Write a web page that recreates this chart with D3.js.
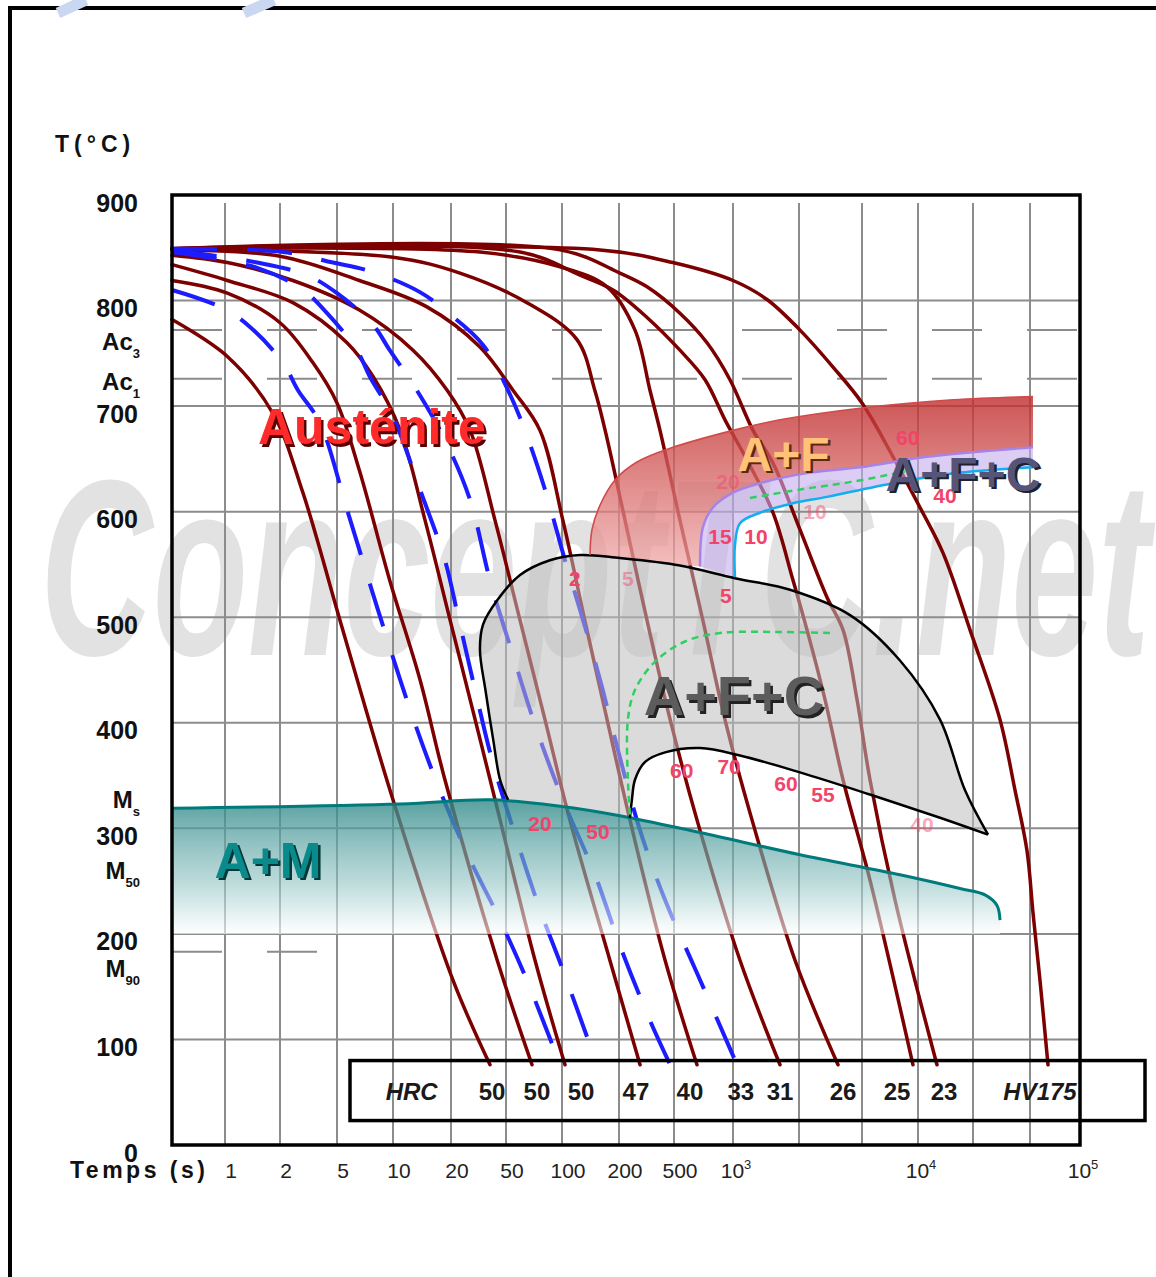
<!DOCTYPE html>
<html>
<head>
<meta charset="utf-8">
<script src="https://cdnjs.cloudflare.com/ajax/libs/d3/7.8.5/d3.min.js"></script>
<style>
  body { margin: 0; background: #fff; }
  svg text { font-family: "Liberation Sans", Arial, sans-serif; }
</style>
</head>
<body>
<div id="chart"></div>
<script>
// ---- axes ----
// the time grid is a 1-2-5 sequence, each step drawn at (almost) the same width
const timeBreaks = [0.5, 1, 2, 5, 10, 20, 50, 100, 200, 500, 1e3, 2e3, 5e3, 1e4, 2e4, 5e4, 1e5];
const gridTimes = [1, 2, 5, 10, 20, 50, 100, 200, 500, 1e3, 2e3, 5e3, 1e4, 2e4, 5e4];
const timeTicks = [1, 2, 5, 10, 20, 50, 100, 200, 500, 1e3, 1e4, 1e5];
const tempTicks = [0, 100, 200, 300, 400, 500, 600, 700, 800, 900];
const gridTemps = [100, 200, 300, 400, 500, 600, 700, 800];

// critical temperatures (deg C)
const ac3Temp = 772;
const ac1Temp = 726;
const m90Temp = 183;
const critNames = ['Ac', 'Ac', 'M', 'M', 'M'];
const critSubs = ['3', '1', 's', '50', '90'];
const critLabelTemps = [760, 723, 327, 259, 166];

// ---- cooling curves [time s, temperature C] ----
const redCurves = [
  [[0.5,782],[1.03,747],[1.83,693],[2.89,618],[5.19,497],[10,327],[20.7,156],[38.3,76]],
  [[0.5,819],[1.03,807],[2,779],[3.4,741],[5,703],[6.6,639],[9.6,535],[13.8,441],[18.6,346],[43.2,175],[69,76]],
  [[0.5,834],[1.03,819],[2.46,798],[5.66,760],[7.81,728],[10.9,677],[14.66,592],[19.8,497],[29.9,403],[45.3,308],[71.6,175],[103.7,76]],
  [[0.5,843],[1.03,836],[2.46,819],[6.6,791],[12.7,753],[19.1,715],[27.5,677],[41.6,592],[59.5,497],[81,403],[110,308],[179,175],[284,76]],
  [[0.5,848],[2,842],[6.6,819],[15,794],[32.4,756],[54.5,715],[76.1,677],[101,592],[132,497],[173,403],[240,308],[431,175],[655,76]],
  [[0.5,849],[10,841],[23.2,826],[64.8,798],[120,763],[149,715],[169,677],[221,592],[319,497],[469,403],[655,308],[1076,175],[1638,76]],
  [[0.5,849],[32.4,846],[97.6,832],[173,813],[261,772],[335,715],[396,677],[536,592],[702,497],[910,403],[1221,308],[1918,175],[3527,76]],
  [[0.5,849],[59.5,846],[124.5,824],[186,810],[319,784],[536,753],[720,725],[910,687],[1158,649],[1522,599],[1878,535],[2246,488],[2920,422],[3794,346],[5520,251],[9397,76]],
  [[0.5,849],[97.6,848],[203,826],[319,813],[536,788],[737,760],[965,725],[1234,677],[1522,646],[2029,583],[3004,519],[3794,488],[4650,422],[5520,346],[7525,232],[12700,76]],
  [[0.5,849],[158.7,848],[490,836],[1000,819],[1429,801],[2029,772],[3280,737],[5000,703],[7339,652],[10255,604],[13700,561],[19260,488],[30870,403],[39320,336],[47620,279],[52130,220],[57430,156],[64170,76]]
];

const blueCurves = [
  [[0.5,810],[0.97,793],[1.37,775],[2.1,741],[2.67,715],[3.8,684],[5.66,602],[8.3,507],[12.3,412],[17.5,336],[27.5,270],[45.3,213],[64.8,156],[97.6,76]],
  [[0.5,846],[1.5,831],[2.89,810],[4.26,788],[6.4,753],[7.5,728],[10,690],[13.8,621],[18.6,554],[22.4,502],[29.9,431],[39.6,365],[55.9,294],[76.1,223],[101,166],[153,76]],
  [[0.5,848],[1.5,836],[3.09,824],[5,807],[7.81,777],[9.6,753],[13.3,715],[18.6,668],[27.5,611],[38.3,535],[54.5,464],[71.6,398],[101,327],[149.4,256],[203,189],[335,118],[469,76]],
  [[0.5,849],[2.1,846],[4.69,836],[7.81,827],[13.8,808],[19.1,789],[34.1,758],[51.3,715],[63.2,677],[81,621],[103.7,554],[124.5,507],[158.7,441],[197.6,374],[284,298],[431,232],[655,163],[1043,76]]
];

// ---- transformation zones ----
const ferriteTop = [[140.6,559],[144,583],[158.7,606],[190.6,630],[270,647],[469,660],[1000,677],[1638,687],[4850,698],[15540,706],[52130,709]];
const carbideTop = [[679,548],[702,585],[790,604],[1000,618],[1328,627],[2347,637],[4850,642],[11200,652],[52130,661]];
const cyanLine = [[1021,538],[1021,568],[1076,589],[1328,599],[1878,608],[3004,614],[7339,627],[16980,637],[52130,642]];
const bainiteOuter = [[51.3,327],[45.3,346],[40.4,384],[35.5,431],[32.4,469],[34.1,493],[43.2,516],[59.5,540],[86.1,554],[124.5,559],[203,556],[536,549],[1021,537],[1819,526],[4200,502],[8000,459],[13200,403],[18090,336],[25460,294]];
const bainiteInner = [[25460,294],[13200,310],[5520,332],[2029,353],[1076,369],[679,376],[431,372],[309,363],[261,346],[248,327],[240,310]];
const msLine = [[0.5,319],[10.9,323],[38.3,327],[97.6,321],[203,312],[679,296],[2029,275],[8000,256],[16980,243],[24260,237],[29420,227],[30870,213]];
const martensiteFloor = 200;
const greenLow = [[240,313],[232,346],[232,403],[261,431],[365,458],[569,477],[858,485],[1638,486],[3139,485]];
const greenHigh = [[1195,613],[2029,621],[4200,628],[8500,638]];

// percentage labels [text, time, temp]
const pctLabels = [
  ['60',8800,668],['20',943,627],['40',14050,613],['10',2525,598],['15',858,575],['10',1273,575],
  ['2',117,535],['5',232,535],['5',920,519],['60',548,353],['70',955,357],['60',1745,341],
  ['55',2836,330],['40',10517,302],['20',76.1,303],['50',155,295]
];
const fadedPct = new Set([1, 3, 7, 13]);

// zone names [text, time, temp]
const zoneLabels = [
  ['Austénite', 7.7, 664],
  ['A+F', 1700, 639],
  ['A+F+C', 17620, 620],
  ['A+F+C', 1010, 407],
  ['A+M', 1.72, 253]
];

// final hardness
const hardnessTexts = ['HRC','50','50','50','47','40','33','31','26','25','23','HV175'];
const hardnessTimes = [12.5,39.6,73.3,126,265,603,1086,1638,3794,7710,13880,57430];

class CctDiagram {

    constructor(_config) {
        this.config = {
            parentElement: _config.parentElement,
            containerWidth: 1156,
            containerHeight: 1277,
            margin: { top: 195, right: 76, bottom: 132, left: 172 },
            // pixel spot of each time break along the axis
            xRange: [0, 53, 108, 165, 221, 279, 334, 390, 447, 502, 561, 627, 690, 746, 801, 858, 908]
        };
        this.initVis();
    }

    initVis() {
        let vis = this;
        const m = vis.config.margin;
        vis.width = vis.config.containerWidth - m.left - m.right;
        vis.height = vis.config.containerHeight - m.top - m.bottom;

        vis.x = d3.scaleLog().domain(timeBreaks).range(vis.config.xRange);
        vis.y = d3.scaleLinear().domain([0, 900]).range([vis.height, 0]);

        vis.line = d3.line()
            .x(d => vis.x(d[0]))
            .y(d => vis.y(d[1]))
            .curve(d3.curveCatmullRom.alpha(0.5));

        vis.svg = d3.select(vis.config.parentElement).append('svg')
            .attr('width', vis.config.containerWidth)
            .attr('height', vis.config.containerHeight);

        const defs = vis.svg.append('defs');
        const teal = defs.append('linearGradient').attr('id', 'tealGrad')
            .attr('x1', 0).attr('y1', 0).attr('x2', 0).attr('y2', 1);
        teal.append('stop').attr('offset', '0%').attr('stop-color', '#2f8888').attr('stop-opacity', 0.8);
        teal.append('stop').attr('offset', '60%').attr('stop-color', '#8cc0c0').attr('stop-opacity', 0.6);
        teal.append('stop').attr('offset', '100%').attr('stop-color', '#ffffff').attr('stop-opacity', 0.6);
        const red = defs.append('linearGradient').attr('id', 'ferGrad')
            .attr('x1', 0).attr('y1', 0).attr('x2', 0).attr('y2', 1);
        red.append('stop').attr('offset', '0%').attr('stop-color', '#c02a2a').attr('stop-opacity', 0.8);
        red.append('stop').attr('offset', '100%').attr('stop-color', '#f0a8a8').attr('stop-opacity', 0.75);

        // outer page frame and corner marks
        vis.svg.append('rect')
            .attr('x', 10).attr('y', 8).attr('width', 1200).attr('height', 1320)
            .attr('fill', 'none').attr('stroke', '#000').attr('stroke-width', 4);
        vis.svg.append('path')
            .attr('d', 'M58,13 L86,0 M244,13 L274,0')
            .attr('stroke', '#c9d8f0').attr('stroke-width', 11);

        // watermark
        vis.svg.append('text')
            .attr('x', 40).attr('y', 655)
            .attr('textLength', 1110).attr('lengthAdjust', 'spacingAndGlyphs')
            .attr('font-size', 250).attr('font-weight', 'bold').attr('font-style', 'italic')
            .attr('fill', '#e2e2e2')
            .text('ConceptTC.net');

        vis.chart = vis.svg.append('g')
            .attr('transform', `translate(${m.left},${m.top})`);

        vis.renderVis();
    }

    zonePath(parts) {
        let vis = this;
        return parts.map((p, i) => {
            const s = vis.line(p);
            return i ? s.replace(/^M/, 'L') : s;
        }).join('') + 'Z';
    }

    shadowText(g, text, x, y, size, fill, shadow) {
        g.append('text').attr('x', x + 2.5).attr('y', y + 2.5)
            .attr('text-anchor', 'middle').attr('font-size', size).attr('font-weight', 'bold')
            .attr('fill', shadow).text(text);
        g.append('text').attr('x', x).attr('y', y)
            .attr('text-anchor', 'middle').attr('font-size', size).attr('font-weight', 'bold')
            .attr('fill', fill).text(text);
    }

    renderVis() {
        let vis = this;
        const c = vis.chart;
        const gridColor = '#8c8c8c';

        // grid
        c.append('g').selectAll('line').data(gridTimes).join('line')
            .attr('x1', d => vis.x(d)).attr('x2', d => vis.x(d))
            .attr('y1', 8).attr('y2', vis.height)
            .attr('stroke', gridColor).attr('stroke-width', 2);
        c.append('g').selectAll('line').data(gridTemps).join('line')
            .attr('x1', 0).attr('x2', vis.width)
            .attr('y1', d => vis.y(d)).attr('y2', d => vis.y(d))
            .attr('stroke', gridColor).attr('stroke-width', 2);
        c.append('g').selectAll('line').data([ac3Temp, ac1Temp]).join('line')
            .attr('x1', 0).attr('x2', vis.width)
            .attr('y1', d => vis.y(d)).attr('y2', d => vis.y(d))
            .attr('stroke', gridColor).attr('stroke-width', 2)
            .attr('stroke-dasharray', '50,45');
        c.append('line')
            .attr('x1', 0).attr('x2', vis.x(5) - 20)
            .attr('y1', vis.y(m90Temp)).attr('y2', vis.y(m90Temp))
            .attr('stroke', gridColor).attr('stroke-width', 2)
            .attr('stroke-dasharray', '50,45');

        // cooling curves
        c.append('g').selectAll('path').data(redCurves).join('path')
            .attr('d', vis.line)
            .attr('fill', 'none').attr('stroke', '#7c0000').attr('stroke-width', 3.5)
            .attr('stroke-linecap', 'round');
        c.append('g').selectAll('path').data(blueCurves).join('path')
            .attr('d', vis.line)
            .attr('fill', 'none').attr('stroke', '#1c1cff').attr('stroke-width', 4)
            .attr('stroke-dasharray', '45,30');

        // zones, drawn over the curves so that these look faded inside
        const msFill = msLine.concat([[msLine[msLine.length - 1][0], martensiteFloor], [msLine[0][0], martensiteFloor]]);
        c.append('path')
            .attr('d', d3.line().x(d => vis.x(d[0])).y(d => vis.y(d[1])).curve(d3.curveLinearClosed)(msFill))
            .attr('fill', 'url(#tealGrad)');
        c.append('path')
            .attr('d', vis.zonePath([bainiteOuter, bainiteInner]))
            .attr('fill', '#bdbdbd').attr('fill-opacity', 0.55);
        c.append('path')
            .attr('d', vis.zonePath([ferriteTop, carbideTop.slice().reverse(), [carbideTop[0], ferriteTop[0]]]))
            .attr('fill', 'url(#ferGrad)');
        c.append('path')
            .attr('d', vis.zonePath([carbideTop, cyanLine.slice().reverse(), [cyanLine[0], carbideTop[0]]]))
            .attr('fill', '#c4acec').attr('fill-opacity', 0.6);

        // zone borders
        const border = (pts, color, w, dash) => c.append('path')
            .attr('d', vis.line(pts)).attr('fill', 'none')
            .attr('stroke', color).attr('stroke-width', w)
            .attr('stroke-dasharray', dash || null);
        border(msLine, '#007a7a', 3);
        border(bainiteOuter, '#000', 2.5);
        border(bainiteInner, '#000', 2.5);
        border(ferriteTop, '#d24a4a', 1.6);
        border(carbideTop, '#a684e6', 2.5);
        border(cyanLine, '#12aef0', 2.5);
        border(greenLow, '#2fd060', 2.5, '7,5');
        border(greenHigh, '#2fd060', 2.5, '7,5');

        // percentage labels
        c.append('g').selectAll('text').data(pctLabels).join('text')
            .attr('x', d => vis.x(d[1])).attr('y', d => vis.y(d[2]))
            .attr('text-anchor', 'middle').attr('dominant-baseline', 'middle')
            .attr('font-size', 21).attr('font-weight', 'bold')
            .attr('fill', '#f2436b')
            .attr('opacity', (d, i) => fadedPct.has(i) ? 0.45 : 1)
            .text(d => d[0]);

        // zone names
        const zl = c.append('g');
        const styles = [
            { size: 50, fill: '#ff2a2a', shadow: '#5a0000' },
            { size: 48, fill: '#ffc27a', shadow: '#5a2a10' },
            { size: 48, fill: '#55557a', shadow: '#20202e' },
            { size: 56, fill: '#5c5c5c', shadow: '#222' },
            { size: 50, fill: '#0a8a8a', shadow: '#003838' }
        ];
        zoneLabels.forEach((d, i) => vis.shadowText(zl, d[0], vis.x(d[1]), vis.y(d[2]),
            styles[i].size, styles[i].fill, styles[i].shadow));

        // plot frame
        c.append('rect')
            .attr('x', 0).attr('y', 0).attr('width', vis.width).attr('height', vis.height)
            .attr('fill', 'none').attr('stroke', '#000').attr('stroke-width', 3.5);

        // y axis
        const yAxis = d3.axisLeft(vis.y).tickValues(tempTicks).tickSize(0).tickPadding(34);
        const yAxisG = c.append('g').call(yAxis);
        yAxisG.select('.domain').remove();
        yAxisG.selectAll('text')
            .attr('y', 8)
            .attr('font-size', 25).attr('font-weight', 'bold').attr('fill', '#111')
            .attr('font-family', '"Liberation Sans", Arial, sans-serif');

        const crit = c.append('g');
        critNames.forEach((name, i) => {
            const t = crit.append('text')
                .attr('x', -32).attr('y', vis.y(critLabelTemps[i]))
                .attr('dy', '0.32em')
                .attr('text-anchor', 'end')
                .attr('font-size', 24).attr('font-weight', 'bold').attr('fill', '#111');
            t.append('tspan').text(name);
            t.append('tspan').attr('dy', 8).attr('font-size', 13).text(critSubs[i]);
        });

        c.append('text')
            .attr('x', 55 - vis.config.margin.left).attr('y', 152 - vis.config.margin.top)
            .attr('font-size', 23).attr('font-weight', 'bold').attr('letter-spacing', 5)
            .attr('fill', '#111')
            .text('T(°C)');

        // x axis
        const xl = c.append('g');
        timeTicks.forEach(t => {
            const exp = Math.round(Math.log10(t));
            const txt = xl.append('text')
                .attr('x', vis.x(t) + (t >= 1e3 ? 3 : 6))
                .attr('y', vis.height + 33)
                .attr('text-anchor', 'middle')
                .attr('font-size', 21).attr('fill', '#222');
            if (t >= 1e3) {
                txt.append('tspan').text('10');
                txt.append('tspan').attr('dy', -9).attr('font-size', 13).text(exp);
            } else {
                txt.text(t);
            }
        });
        c.append('text')
            .attr('x', 70 - vis.config.margin.left).attr('y', vis.height + 33)
            .attr('font-size', 23).attr('font-weight', 'bold').attr('letter-spacing', 3.5)
            .attr('fill', '#111')
            .text('Temps (s)');

        // hardness table
        c.append('rect')
            .attr('x', 178).attr('y', vis.y(80)).attr('width', 795).attr('height', 60)
            .attr('fill', 'none').attr('stroke', '#000').attr('stroke-width', 3.5);
        c.append('g').selectAll('text').data(hardnessTexts).join('text')
            .attr('x', (d, i) => vis.x(hardnessTimes[i]))
            .attr('y', vis.y(43))
            .attr('text-anchor', 'middle')
            .attr('font-size', 24).attr('font-weight', 'bold')
            .attr('font-style', (d, i) => (i === 0 || i === hardnessTexts.length - 1) ? 'italic' : 'normal')
            .attr('fill', '#1a1a1a')
            .text(d => d);
    }
}

new CctDiagram({ parentElement: '#chart' });
</script>
</body>
</html>
